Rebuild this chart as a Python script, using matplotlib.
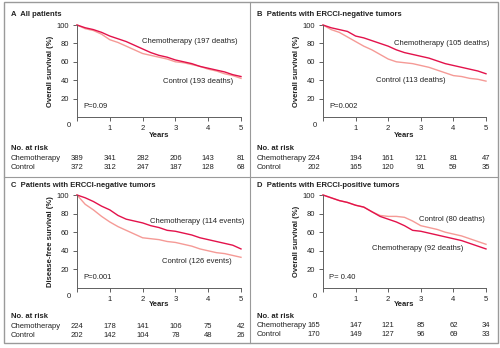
import numpy as np
import matplotlib.pyplot as plt
import matplotlib.transforms as mtrans
from matplotlib.patches import Rectangle
from matplotlib.lines import Line2D

plt.rcParams['font.family'] = ['Liberation Sans', 'DejaVu Sans']

# ── data ──────────────────────────────────────────────────────────────────
years = [0, 0.25, 0.5, 0.75, 1, 1.25, 1.5, 1.75, 2, 2.25, 2.5, 2.75,
         3, 3.25, 3.5, 3.75, 4, 4.25, 4.5, 4.75, 5]

a_chemo = [100, 97, 95, 92, 88, 85, 82, 78, 74, 70, 67, 65, 62, 60, 58, 55, 53, 51, 49, 46, 44]
a_ctrl = [100, 96, 94, 90, 84, 81, 77, 73, 69, 67, 65, 63, 60, 59, 57, 55, 52, 50, 47, 45, 42]

b_chemo = [100, 97, 95, 93, 88, 86, 83, 80, 77, 73, 70, 68, 66, 64, 61, 58, 56, 54, 52, 50, 47]
b_ctrl = [100, 95, 92, 87, 82, 77, 73, 68, 63, 60, 59, 58, 56, 54, 51, 48, 45, 44, 42, 41, 39]

c_chemo = [100, 97, 93, 88, 84, 78, 74, 72, 70, 67, 65, 62, 61, 59, 57, 54, 52, 50, 48, 46, 42]
c_ctrl = [100, 90, 84, 77, 71, 66, 62, 58, 54, 53, 52, 50, 49, 47, 45, 42, 40, 38, 37, 35, 33]

d_chemo = [100, 97, 94, 92, 89, 87, 82, 77, 74, 71, 67, 62, 61, 59, 57, 55, 53, 51, 48, 45, 42]
d_ctrl = [100, 97, 94, 92, 89, 87, 82, 78, 77, 77, 76, 72, 67, 65, 63, 60, 58, 56, 53, 50, 47]

risk_years = [0, 1, 2, 3, 4, 5]
a_risk_chemo = [389, 341, 282, 206, 143, 81]
a_risk_ctrl = [372, 312, 247, 187, 128, 68]
b_risk_chemo = [224, 194, 161, 121, 81, 47]
b_risk_ctrl = [202, 165, 120, 91, 59, 35]
c_risk_chemo = [224, 178, 141, 106, 75, 42]
c_risk_ctrl = [202, 142, 104, 78, 48, 26]
d_risk_chemo = [165, 147, 121, 85, 62, 34]
d_risk_ctrl = [170, 149, 127, 96, 69, 33]

CHEMO = '#e3124b'
CTRL = '#f59a96'
TXT = '#222222'
AXC = '#606060'
FS = 5.5

W, H = 500, 348
fig = plt.figure(figsize=(W / 100, H / 100), dpi=100)
fig.patch.set_facecolor('white')


def fx(px):
    return px / W


def fy(py):
    return 1 - py / H


panels = [
    dict(letter='A', title='All patients', rect=(77, 241, 25, 117),
         chemo=a_chemo, ctrl=a_ctrl, ylabel='Overall survival (%)',
         chemo_txt='Chemotherapy (197 deaths)', chemo_pos=(1.97, 82),
         ctrl_txt='Control (193 deaths)', ctrl_pos=(2.63, 39), p='P=0.09',
         rc=a_risk_chemo, rk=a_risk_ctrl, first_off=0.0,
         tx=11, ty=14, ylx=50, yearsy=135, rows=(149, 158.5, 167.5)),
    dict(letter='B', title='Patients with ERCCI-negative tumors', rect=(323, 486, 25, 117),
         chemo=b_chemo, ctrl=b_ctrl, ylabel='Overall survival (%)',
         chemo_txt='Chemotherapy (105 deaths)', chemo_pos=(2.19, 80),
         ctrl_txt='Control (113 deaths)', ctrl_pos=(1.62, 40), p='P=0.002',
         rc=b_risk_chemo, rk=b_risk_ctrl, first_off=-0.28,
         tx=257, ty=14, ylx=296, yearsy=135, rows=(149, 158.5, 167.5)),
    dict(letter='C', title='Patients with ERCCI-negative tumors', rect=(77, 241, 195, 288),
         chemo=c_chemo, ctrl=c_ctrl, ylabel='Disease-free survival (%)',
         chemo_txt='Chemotherapy (114 events)', chemo_pos=(2.23, 72),
         ctrl_txt='Control (126 events)', ctrl_pos=(2.6, 28), p='P=0.001',
         rc=c_risk_chemo, rk=c_risk_ctrl, first_off=0.0,
         tx=11, ty=185.5, ylx=50, yearsy=305, rows=(317, 326.3, 335.7)),
    dict(letter='D', title='Patients with ERCCI-positive tumors', rect=(323, 486, 195, 288),
         chemo=d_chemo, ctrl=d_ctrl, ylabel='Overall survival (%)',
         chemo_txt='Chemotherapy (92 deaths)', chemo_pos=(1.51, 43),
         ctrl_txt='Control (80 deaths)', ctrl_pos=(2.94, 74), p='P= 0.40',
         rc=d_risk_chemo, rk=d_risk_ctrl, first_off=-0.28,
         tx=257, ty=185.5, ylx=296, yearsy=305, rows=(317, 325.8, 335)),
]

for pn in panels:
    x0, x1, y0, y1 = pn['rect']
    ax = fig.add_axes([fx(x0), fy(y1), fx(x1 - x0), (y1 - y0) / H])
    ax.set_xlim(0, 5)
    ax.set_ylim(0, 100)
    ax.set_facecolor('none')

    ax.plot(years, pn['ctrl'], color=CTRL, lw=1.0, clip_on=False)
    ax.plot(years, pn['chemo'], color=CHEMO, lw=1.0, clip_on=False)

    for s in ['top', 'right']:
        ax.spines[s].set_visible(False)
    for s in ['left', 'bottom']:
        ax.spines[s].set_color(AXC)
        ax.spines[s].set_linewidth(0.7)

    ax.set_yticks([20, 40, 60, 80, 100])
    ax.set_xticks([0, 1, 2, 3, 4, 5])
    ax.set_xticklabels(['', '1', '2', '3', '4', '5'])
    ax.tick_params(labelsize=FS, colors=AXC, labelcolor=TXT, length=3, width=0.7, pad=2.5)
    ax.text(-0.25, -0.09, '0', transform=mtrans.blended_transform_factory(ax.transData, ax.transAxes),
            ha='center', va='center', fontsize=FS, color=TXT)

    ax.text(*pn['chemo_pos'], pn['chemo_txt'], fontsize=FS, color=TXT, va='center')
    ax.text(*pn['ctrl_pos'], pn['ctrl_txt'], fontsize=FS, color=TXT, va='center')
    ax.text(0.19, 11, pn['p'], fontsize=FS, color=TXT, va='center')

    fig.text(fx(pn['tx']), fy(pn['ty']), f"{pn['letter']}  {pn['title']}",
             fontsize=FS, fontweight='bold', color=TXT, va='center', ha='left')
    fig.text(fx(pn['ylx']), (fy(y0) + fy(y1)) / 2, pn['ylabel'], rotation=90,
             fontsize=FS, fontweight='bold', color=TXT, va='center', ha='center')
    fig.text((fx(x0) + fx(x1)) / 2, fy(pn['yearsy']), 'Years',
             fontsize=FS, fontweight='bold', color=TXT, va='center', ha='center')

    # number at risk table
    r0, r1, r2 = pn['rows']
    fig.text(fx(pn['tx']), fy(r0), 'No. at risk', fontsize=FS, fontweight='bold',
             color=TXT, va='center')
    fig.text(fx(pn['tx']), fy(r1), 'Chemotherapy', fontsize=FS, color=TXT, va='center')
    fig.text(fx(pn['tx']), fy(r2), 'Control', fontsize=FS, color=TXT, va='center')
    tr = mtrans.blended_transform_factory(ax.transData, fig.transFigure)
    for k, yr in enumerate(risk_years):
        xx = yr + (pn['first_off'] if k == 0 else 0)
        fig.text(xx, fy(r1), str(pn['rc'][k]), transform=tr, fontsize=FS,
                 color=TXT, ha='center', va='center')
        fig.text(xx, fy(r2), str(pn['rk'][k]), transform=tr, fontsize=FS,
                 color=TXT, ha='center', va='center')

# frame and dividers
fig.patches.append(Rectangle((fx(4), fy(343)), fx(494), (343 - 2) / H, transform=fig.transFigure,
                             fill=False, edgecolor='#9a9a9a', lw=1.0))
fig.lines.append(Line2D([fx(250), fx(250)], [fy(2), fy(343)], transform=fig.transFigure,
                        color='#9a9a9a', lw=0.8))
fig.lines.append(Line2D([fx(4), fx(498)], [fy(177), fy(177)], transform=fig.transFigure,
                        color='#9a9a9a', lw=0.8))

fig.savefig('out.png', dpi=100)
